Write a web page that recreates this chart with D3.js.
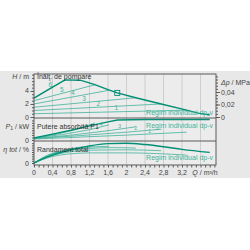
<!DOCTYPE html>
<html>
<head>
<meta charset="utf-8">
<script src="https://cdn.jsdelivr.net/npm/d3@7"></script>
<style>
body{margin:0;background:#fff}
svg{display:block}
text{font-family:"Liberation Sans",Arial,sans-serif;font-size:7px;fill:#444}
</style>
</head>
<body>
<svg id="chart" width="250" height="250"></svg>
<script>
// x axis
const qTicks = [0, 0.4, 0.8, 1.2, 1.6, 2, 2.4, 2.8, 3.2]
const qLabels = ["0", "0,4", "0,8", "1,2", "1,6", "2", "2,4", "2,8", "3,2"]
const hTicks = [0, 2, 4]
const dpTicks = [0, 0.02, 0.04]
const dpLabels = ["0", "0,02", "0,04"]

// head: max curve and dp-v lines (Q m3/h, H m)
const hMax = [[0,2.9],[0.3,4.15],[0.67,5.7],[1.0,5.65],[1.3,5.0],[1.6,4.2],[1.8,3.7],[2.2,2.95],[2.75,2.0],[3.3,1.05],[3.55,0.6],[3.8,0.3]]
const hSettings = ["1","2","3","4","5","6"]
const hLines = [
  [[0,0.5],[3.3,1.05]],
  [[0,1.0],[2.75,2.0]],
  [[0,1.5],[2.2,2.95]],
  [[0,2.0],[1.62,4.1]],
  [[0,2.5],[1.32,4.95]],
  [[0,2.9],[0.67,5.7]]
]
const hLabelQ = [1.78, 1.39, 1.08, 0.84, 0.6, 0.35]
const hMarks = [[1.8,3.7]]

// power P1 (kW)
const pMax = [[0,0.004],[0.4,0.012],[0.8,0.02],[1.2,0.029],[1.6,0.037],[1.8,0.041],[2.4,0.042],[3.0,0.042],[3.8,0.042]]
const pLines = [
  [[0,0.002],[1,0.006],[2,0.01],[3.3,0.016]],
  [[0,0.003],[1,0.009],[2,0.016],[2.75,0.022]],
  [[0,0.003],[0.8,0.01],[1.6,0.019],[2.2,0.027]],
  [[0,0.004],[0.6,0.011],[1.2,0.021],[1.62,0.031]],
  [[0,0.004],[0.5,0.012],[1.0,0.024],[1.32,0.035]]
]
const pLabelQ = [2.5, 2.2, 1.85, 1.45]

// total efficiency (%)
const etaMax = [[0,0],[0.2,5],[0.4,9],[0.8,15],[1.2,19.5],[1.6,22],[2.0,22.5],[2.4,21],[2.8,18.5],[3.2,15.5],[3.8,12]]
const etaLines = [
  [[0,0],[0.3,6],[0.7,10],[1.2,11.5],[2,11.5],[3.3,9]],
  [[0,0],[0.3,7],[0.7,12],[1.2,14.5],[2,15],[2.75,14]],
  [[0,0],[0.3,8],[0.7,13.5],[1.2,16.5],[1.7,17.5],[2.2,17]],
  [[0,0],[0.3,8.5],[0.7,14.5],[1.2,18],[1.62,19]],
  [[0,0],[0.3,9],[0.7,15],[1.0,18],[1.32,19.5]]
]

const svg = d3.select("#chart")
const dark = "#008f74", thin = "#3fb39b", frame = "#5a5a5a"

const x = d3.scaleLinear().domain([0, 3.935]).range([34, 216])
const yH = d3.scaleLinear().domain([0, 6.6]).range([117, 74])
const yDp = d3.scaleLinear().domain([0, 0.0688]).range([117, 74])
const yP = d3.scaleLinear().domain([0, 0.045]).range([140, 118])
const yE = d3.scaleLinear().domain([0, 25]).range([163, 141])

function interp(l, q){
  for(let i=1;i<l.length;i++){
    if(q<=l[i][0]){
      const a=l[i-1], b=l[i]
      return a[1]+(b[1]-a[1])*(q-a[0])/(b[0]-a[0])
    }
  }
  return l[l.length-1][1]
}

svg.append("rect").attr("x",0).attr("y",71).attr("width",250).attr("height",107).style("fill","#e8e8e8")
svg.append("rect").attr("x",34).attr("y",74).attr("width",182).attr("height",91).style("fill","#ececec")

// vertical grid
svg.append("g").selectAll("line").data(d3.range(0.4, 3.9, 0.4)).join("line")
  .attr("x1",d=>x(d)).attr("x2",d=>x(d)).attr("y1",74).attr("y2",165)
  .style("stroke","#c6c6c6").style("stroke-width",0.8)

const lineH = d3.line().x(d=>x(d[0])).y(d=>yH(d[1]))
const lineP = d3.line().x(d=>x(d[0])).y(d=>yP(d[1]))
const lineE = d3.line().x(d=>x(d[0])).y(d=>yE(d[1])).curve(d3.curveMonotoneX)

// head panel
hLines.forEach(l=>{
  svg.append("path").attr("d",lineH(l)).style("fill","none").style("stroke",thin).style("stroke-width",0.8)
})
svg.append("path").attr("d",lineH(hMax)).style("fill","none").style("stroke",dark).style("stroke-width",1.4)
hSettings.forEach((s,i)=>{
  const q = hLabelQ[i]
  svg.append("text").attr("x",x(q)).attr("y",yH(interp(hLines[i],q))-1.5).attr("text-anchor","middle")
    .style("fill",thin).style("font-size","6.5px").text(s)
})
hMarks.forEach(m=>{
  svg.append("rect").attr("x",x(m[0])-2.5).attr("y",yH(m[1])-2.5).attr("width",5).attr("height",5)
    .style("fill","none").style("stroke",dark).style("stroke-width",0.9)
})

// power panel
pLines.forEach(l=>{
  svg.append("path").attr("d",lineP(l)).style("fill","none").style("stroke",thin).style("stroke-width",0.8)
})
svg.append("path").attr("d",lineP(pMax)).style("fill","none").style("stroke",dark).style("stroke-width",1.4)
pLabelQ.forEach((q,i)=>{
  svg.append("text").attr("x",x(q)).attr("y",yP(interp(pLines[i],q))-1).attr("text-anchor","middle")
    .style("fill",thin).style("font-size","5px").text(hSettings[i])
})

// efficiency panel
etaLines.forEach(l=>{
  svg.append("path").attr("d",lineE(l)).style("fill","none").style("stroke",thin).style("stroke-width",0.8)
})
svg.append("path").attr("d",lineE(etaMax)).style("fill","none").style("stroke",dark).style("stroke-width",1.4)

// frames
svg.append("rect").attr("x",34).attr("y",74).attr("width",182).attr("height",91)
  .style("fill","none").style("stroke",frame).style("stroke-width",1)
;[118, 141].forEach(y=>{
  svg.append("line").attr("x1",34).attr("x2",216).attr("y1",y).attr("y2",y).style("stroke",frame).style("stroke-width",1)
})

// x axis
const xa = svg.append("g").attr("transform","translate(0,165)")
xa.call(d3.axisBottom(x).tickValues(d3.range(0, 3.95, 0.1)).tickSize(2.5).tickFormat(""))
xa.select(".domain").remove()
xa.selectAll("line").style("stroke",frame)
qTicks.forEach((q,i)=>{
  svg.append("text").attr("x",x(q)).attr("y",175).attr("text-anchor","middle").text(qLabels[i])
})
svg.append("text").attr("x",205).attr("y",175).attr("text-anchor","middle")
  .html('<tspan font-style="italic">Q</tspan> / m³/h')

// left axes
function leftTicks(scale, vals, big){
  const g = svg.append("g").attr("transform","translate(34,0)")
  g.call(d3.axisLeft(scale).tickValues(vals).tickSize(big).tickFormat(""))
  g.select(".domain").remove()
  g.selectAll("line").style("stroke",frame)
}
leftTicks(yH, d3.range(0, 6.6, 0.5), 2)
leftTicks(yH, hTicks, 3.5)
leftTicks(yP, d3.range(0, 0.045, 0.005), 2)
leftTicks(yE, d3.range(0, 25, 2.5), 2)
hTicks.forEach(h=>{
  svg.append("text").attr("x",29).attr("y",yH(h)+2.5).attr("text-anchor","end").text(h)
})
svg.append("text").attr("x",29).attr("y",yP(0)+2.5).attr("text-anchor","end").text("0")
svg.append("text").attr("x",29).attr("y",yE(0)+2.5).attr("text-anchor","end").text("0")
svg.append("text").attr("x",29).attr("y",79).attr("text-anchor","end")
  .html('<tspan font-style="italic">H</tspan> / m')
svg.append("text").attr("x",29).attr("y",128.5).attr("text-anchor","end")
  .html('<tspan font-style="italic">P</tspan><tspan font-size="5px" dy="1">1</tspan><tspan dy="-1"> / kW</tspan>')
svg.append("text").attr("x",29).attr("y",151.5).attr("text-anchor","end")
  .html('<tspan font-style="italic">η tot</tspan> / %')

// right axis
const ra = svg.append("g").attr("transform","translate(216,0)")
ra.call(d3.axisRight(yDp).tickValues(d3.range(0, 0.068, 0.005)).tickSize(2).tickFormat(""))
ra.select(".domain").remove()
ra.selectAll("line").style("stroke",frame)
const ra2 = svg.append("g").attr("transform","translate(216,0)")
ra2.call(d3.axisRight(yDp).tickValues(dpTicks).tickSize(4).tickFormat(""))
ra2.select(".domain").remove()
ra2.selectAll("line").style("stroke",frame)
dpTicks.forEach((d,i)=>{
  svg.append("text").attr("x",221).attr("y",yDp(d)+2.5).text(dpLabels[i])
})
svg.append("text").attr("x",221).attr("y",85)
  .html('<tspan font-style="italic">Δp</tspan> / MPa')

// panel captions
const caps = [["Înălţ. de pompare",79],["Putere absorbită P1",129],["Randament total",152]]
caps.forEach(c=>{
  svg.append("text").attr("x",37).attr("y",c[1]).style("fill","#333").text(c[0])
})
;[115, 128, 160].forEach(y=>{
  svg.append("text").attr("x",213).attr("y",y).attr("text-anchor","end")
    .style("fill",thin).text("Regim individual dp-v")
})
</script>
</body>
</html>
